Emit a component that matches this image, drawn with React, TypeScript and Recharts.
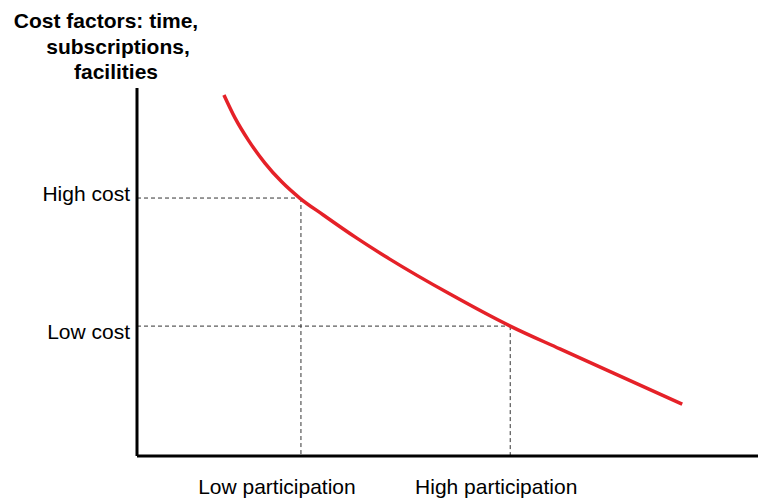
import React from "react";
import { LineChart, Line, XAxis, YAxis, ReferenceLine } from "recharts";

// Participation level (0-100, abstract units) along the curve
const participation = [14.0, 15.8, 17.9, 20.6, 23.3, 26.2, 30.0, 35.4, 40.7, 50.4, 60.1, 68.1, 77.8, 87.8];
// Cost level (0-100, abstract units) along the curve
const cost = [98.1, 91.8, 85.9, 79.6, 74.5, 70.1, 65.5, 59.2, 53.5, 44.0, 35.3, 29.1, 21.7, 14.1];

const xTickValues = [26.4, 60.1];
const xTickLabels = ["Low participation", "High participation"];
const yTickValues = [35.3, 70.1];
const yTickLabels = ["Low cost", "High cost"];
const titleLines = ["Cost factors: time,", "subscriptions,", "facilities"];

const data = participation.map((x, i) => ({ x, y: cost[i] }));

const FONT = "'Liberation Sans', Arial, sans-serif";

// label placement tweaks (style, not data)
const xLabelShift: Record<string, number> = { "Low participation": -24, "High participation": -14 };
const yLabelShift: Record<string, number> = { "High cost": 3, "Low cost": 12.5 };
const titleCenters = [106, 118, 116];

const XTick = (props: any) => {
  const { x, payload } = props;
  const idx = xTickValues.indexOf(payload.value);
  const label = xTickLabels[idx] ?? "";
  return (
    <text x={x + (xLabelShift[label] ?? 0)} y={494} textAnchor="middle" fontFamily={FONT} fontSize={21} fill="#000">
      {label}
    </text>
  );
};

const YTick = (props: any) => {
  const { y, payload } = props;
  const idx = yTickValues.indexOf(payload.value);
  const label = yTickLabels[idx] ?? "";
  return (
    <text x={130} y={y + (yLabelShift[label] ?? 0)} textAnchor="end" fontFamily={FONT} fontSize={21} fill="#000">
      {label}
    </text>
  );
};

export default function App() {
  return (
    <div style={{ position: "absolute", left: 0, top: 0, width: 758, height: 500, background: "#fff" }}>
      <LineChart width={758} height={500} data={data} margin={{ top: 88, right: 0, bottom: 0, left: 0 }}>
        <XAxis
          type="number"
          dataKey="x"
          domain={[0, 100]}
          ticks={xTickValues}
          tick={<XTick />}
          tickLine={false}
          axisLine={{ stroke: "#000", strokeWidth: 3 }}
          height={44}
          allowDataOverflow
        />
        <YAxis
          type="number"
          domain={[0, 100]}
          ticks={yTickValues}
          tick={<YTick />}
          tickLine={false}
          axisLine={{ stroke: "#000", strokeWidth: 3 }}
          width={137}
          allowDataOverflow
        />
        <ReferenceLine
          segment={[{ x: 0, y: yTickValues[1] }, { x: xTickValues[0], y: yTickValues[1] }]}
          stroke="#333"
          strokeDasharray="4 3"
          strokeWidth={1}
        />
        <ReferenceLine
          segment={[{ x: xTickValues[0], y: yTickValues[1] }, { x: xTickValues[0], y: 0 }]}
          stroke="#333"
          strokeDasharray="4 3"
          strokeWidth={1}
        />
        <ReferenceLine
          segment={[{ x: 0, y: yTickValues[0] }, { x: xTickValues[1], y: yTickValues[0] }]}
          stroke="#333"
          strokeDasharray="4 3"
          strokeWidth={1}
        />
        <ReferenceLine
          segment={[{ x: xTickValues[1], y: yTickValues[0] }, { x: xTickValues[1], y: 0 }]}
          stroke="#333"
          strokeDasharray="4 3"
          strokeWidth={1}
        />
        <Line
          type="monotone"
          dataKey="y"
          stroke="#e52128"
          strokeWidth={3.5}
          dot={false}
          activeDot={false}
          isAnimationActive={false}
        />
      </LineChart>
      <svg width={260} height={90} style={{ position: "absolute", left: 0, top: 0 }}>
        {titleLines.map((t, i) => (
          <text
            key={t}
            x={titleCenters[i]}
            y={28 + i * 25.5}
            textAnchor="middle"
            fontFamily={FONT}
            fontWeight="bold"
            fontSize={21}
            fill="#000"
          >
            {t}
          </text>
        ))}
      </svg>
    </div>
  );
}
